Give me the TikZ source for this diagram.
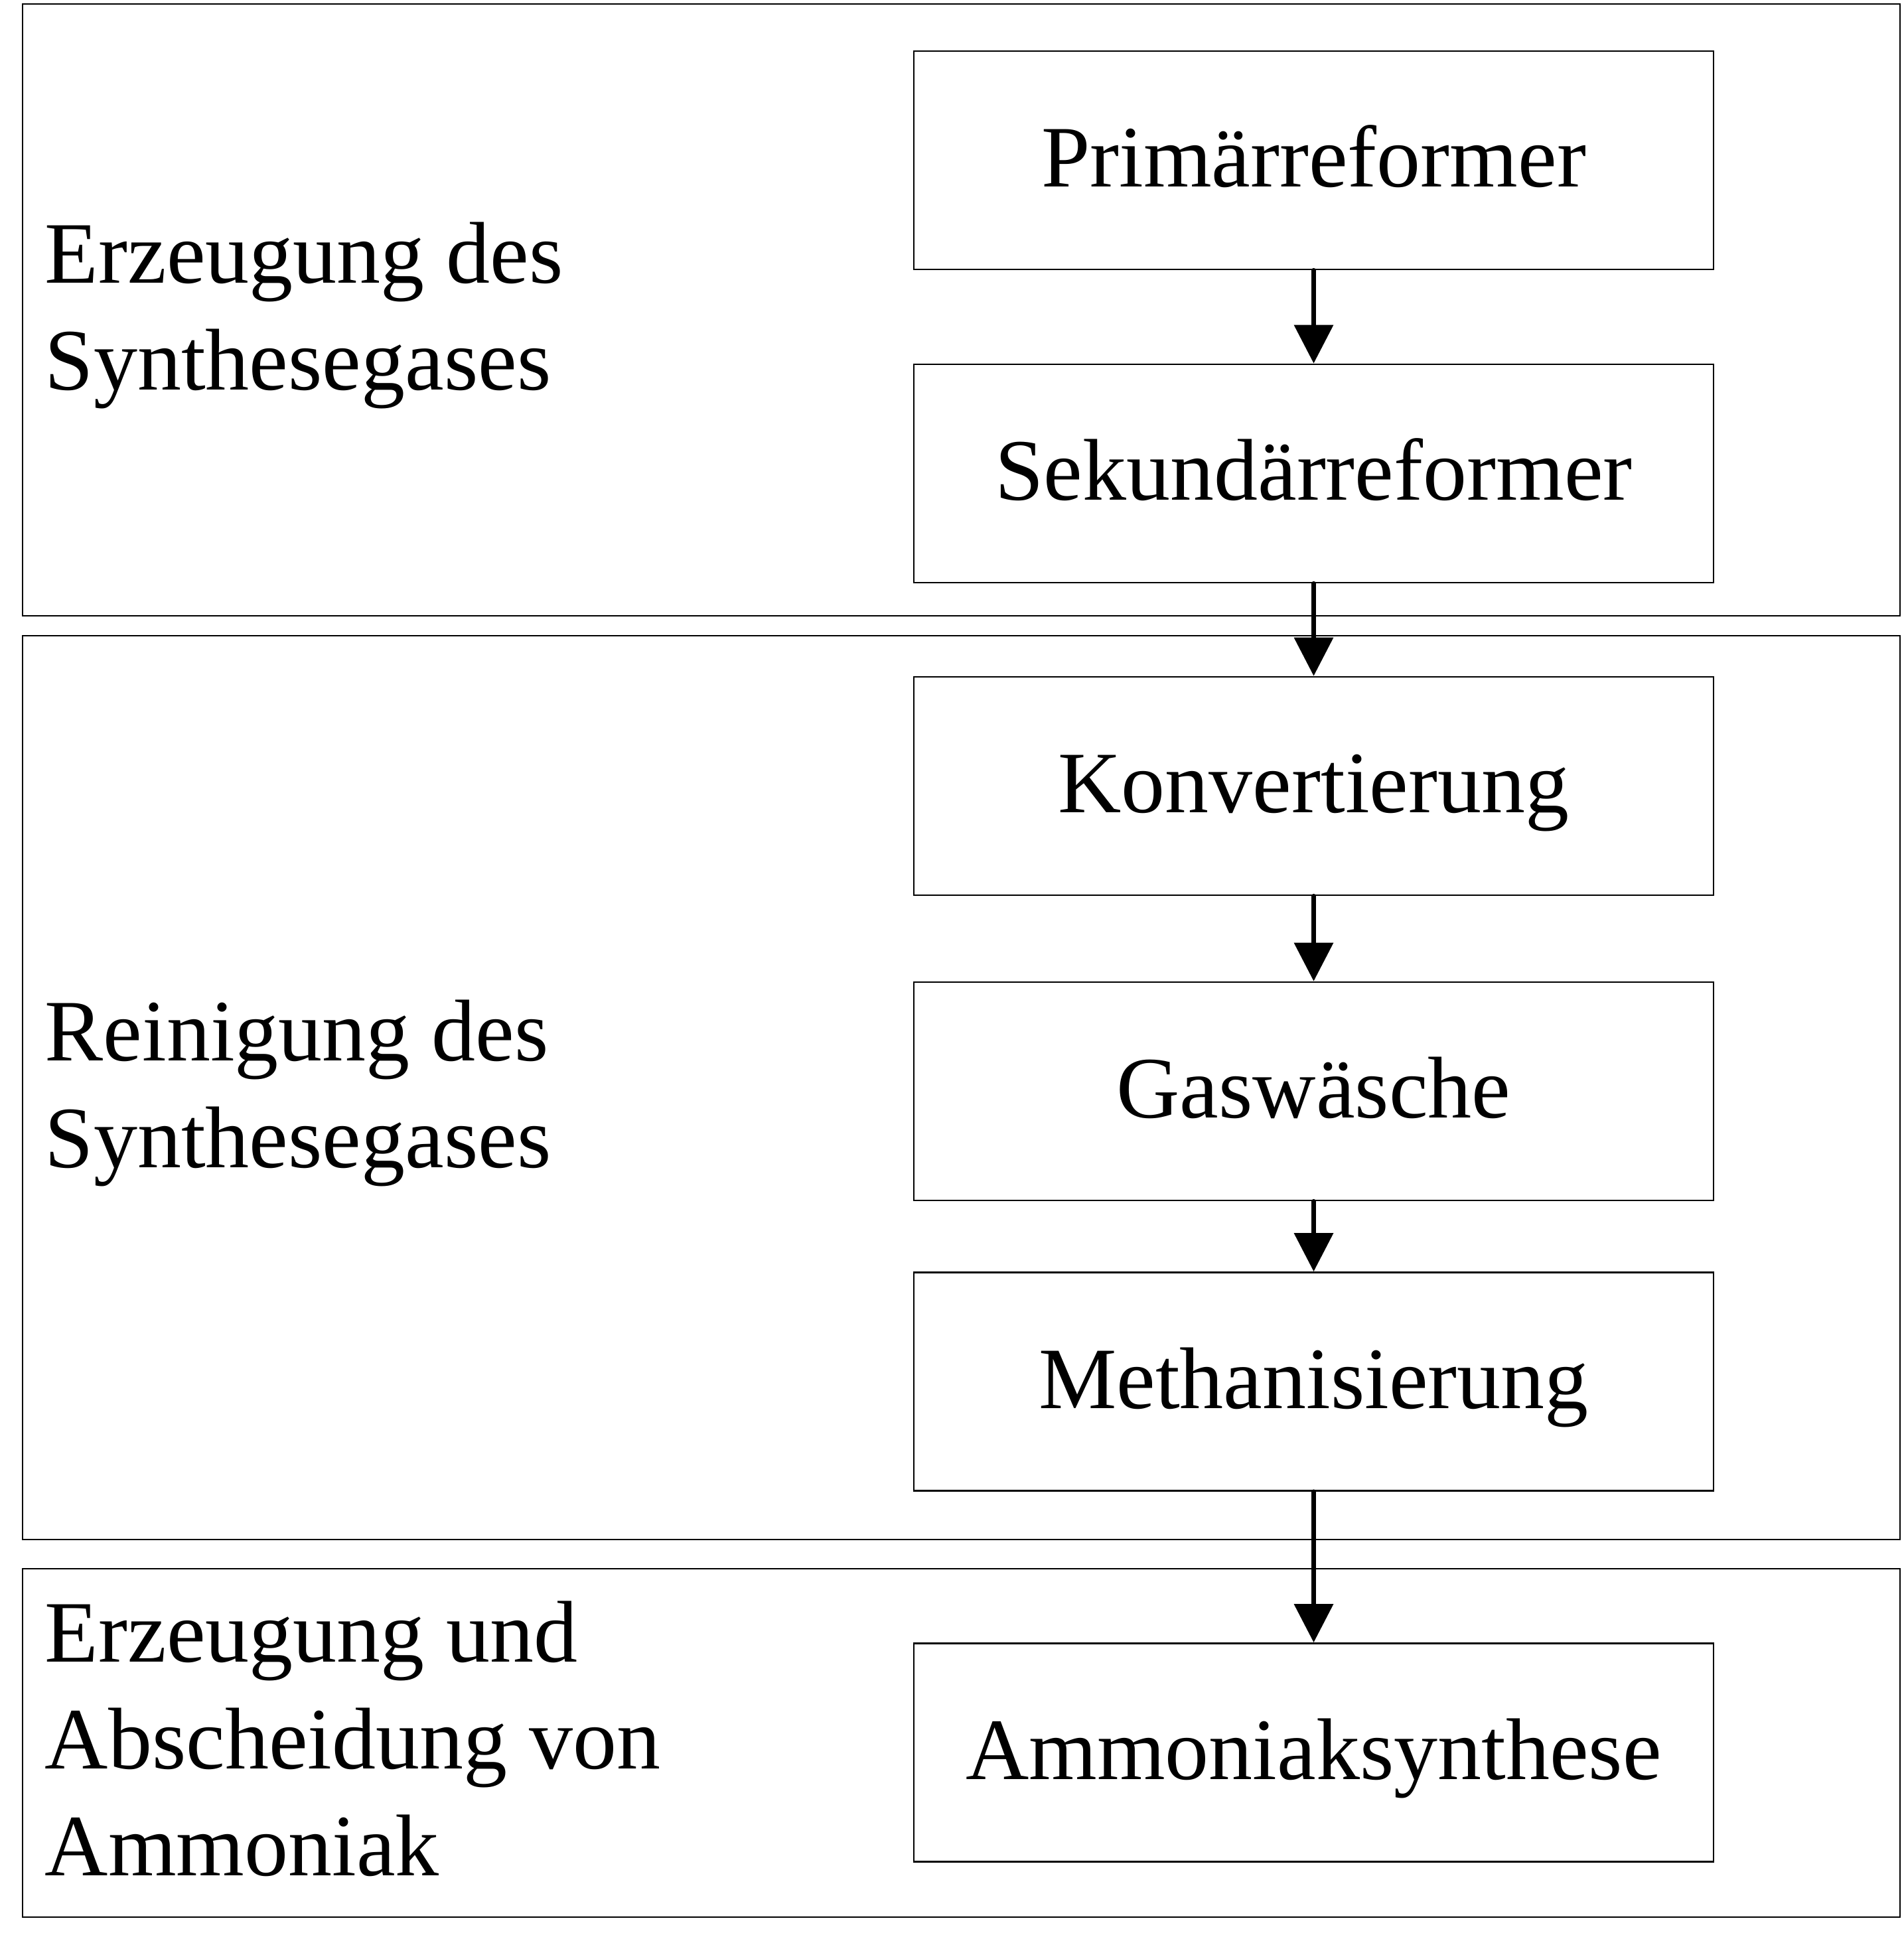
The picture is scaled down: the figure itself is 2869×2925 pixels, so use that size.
\documentclass[tikz,border=0pt]{standalone}
\usepackage{fontspec}
\setmainfont{Liberation Serif}
\usetikzlibrary{arrows.meta}
\begin{document}
\begin{tikzpicture}[x=0.25pt,y=-0.25pt,
  font=\fontsize{33}{40.25}\selectfont,
  stage/.style={draw=black,line width=0.7pt,inner sep=0pt,minimum width=301.25pt,minimum height=82.25pt,text height=20pt,text depth=0pt},
  group/.style={draw=black,line width=0.7pt},
  lbl/.style={anchor=base west,inner sep=0pt,align=left},
  flow/.style={line width=1.75pt,line cap=round,-{Triangle[length=14.5pt,width=14.5pt]}}]
\useasboundingbox (0,0) rectangle (2869,2925);
% group frames
\draw[group] (34,6) rectangle (2863,928);
\draw[group] (34,958) rectangle (2863,2320);
\draw[group] (34,2364) rectangle (2863,2889);
% group labels (anchored at the baseline of the last line)
\node[lbl] (l1) at (67,587) {Erzeugung des\\Synthesegases};
\node[lbl] (l2) at (67,1759) {Reinigung des\\Synthesegases};
\node[lbl] (l3) at (67,2826) {Erzeugung und\\Abscheidung von\\Ammoniak};
% stages
\node[stage] (prim) at (1979.5,241.5) {Primärreformer};
\node[stage] (sek) at (1979.5,713.5) {Sekundärreformer};
\node[stage] (konv) at (1979.5,1184.5) {Konvertierung};
\node[stage] (gas) at (1979.5,1644.5) {Gaswäsche};
\node[stage] (meth) at (1979.5,2082) {Methanisierung};
\node[stage] (amm) at (1979.5,2641) {Ammoniaksynthese};
% connectors
\draw[flow] (prim.south) -- (sek.north);
\draw[flow] (sek.south) -- (konv.north);
\draw[flow] (konv.south) -- (gas.north);
\draw[flow] (gas.south) -- (meth.north);
\draw[flow] (meth.south) -- (amm.north);
\end{tikzpicture}
\end{document}
